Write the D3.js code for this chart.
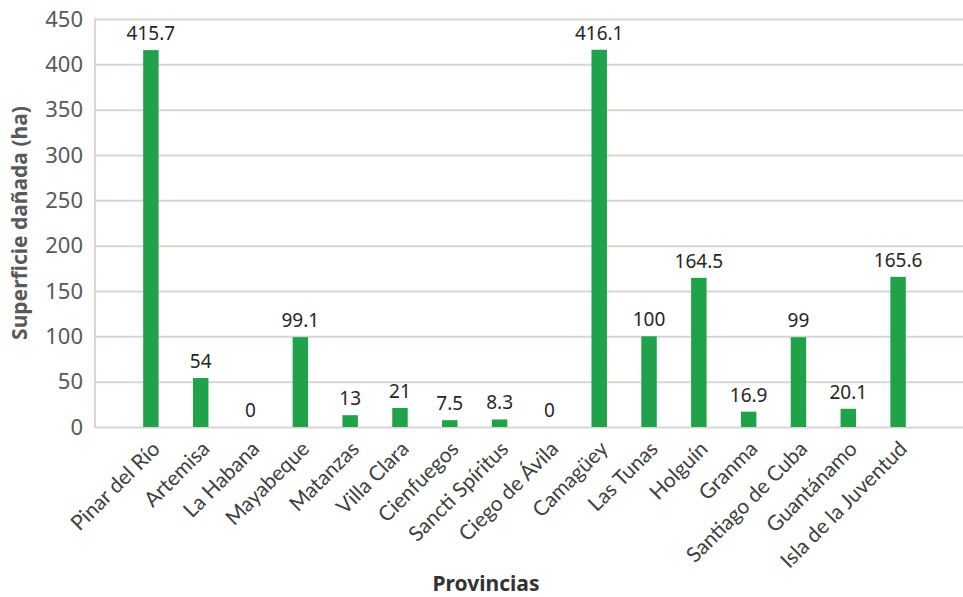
<!DOCTYPE html>
<html>
<head>
<meta charset="utf-8">
<script src="https://cdn.jsdelivr.net/npm/d3@7"></script>
<style>
  html, body { margin: 0; padding: 0; background: #fff; }
  svg { display: block; font-family: "Noto Sans", "Open Sans", sans-serif; }
</style>
</head>
<body>
<svg id="chart" width="963" height="597"></svg>
<script>
// Damaged area per province (hectares)
const provincias = ["Pinar del Río", "Artemisa", "La Habana", "Mayabeque", "Matanzas",
  "Villa Clara", "Cienfuegos", "Sancti Spíritus", "Ciego de Ávila", "Camagüey",
  "Las Tunas", "Holguín", "Granma", "Santiago de Cuba", "Guantánamo", "Isla de la Juventud"];
const superficie = [415.7, 54, 0, 99.1, 13, 21, 7.5, 8.3, 0, 416.1, 100, 164.5, 16.9, 99, 20.1, 165.6];
const yTicks = [0, 50, 100, 150, 200, 250, 300, 350, 400, 450];

const svg = d3.select("#chart");
const plotLeft = 95, plotRight = 963, plotTop = 19, plotBottom = 427;

const x = d3.scaleBand().domain(provincias).range([126, 923]).paddingInner(0.69).paddingOuter(0.345);
const y = d3.scaleLinear().domain([0, 450]).range([plotBottom, plotTop]);

// Horizontal gridlines and tick labels
const yAxis = d3.axisLeft(y).tickValues(yTicks).tickSize(-(plotRight - plotLeft)).tickPadding(12);
const gy = svg.append("g").attr("transform", `translate(${plotLeft},0)`).call(yAxis);
gy.select(".domain").remove();
gy.selectAll(".tick line").attr("stroke", "#d9d5d3").attr("stroke-width", 2);
gy.selectAll(".tick text").attr("fill", "#595959").style("font-size", "22px")
  .attr("font-family", "'Noto Sans', sans-serif");

// Left border of the plot area
svg.append("line").attr("x1", plotLeft).attr("x2", plotLeft)
  .attr("y1", plotTop - 1).attr("y2", plotBottom + 1)
  .attr("stroke", "#d9d5d3").attr("stroke-width", 2);

// Bars
svg.append("g").selectAll("rect").data(superficie).join("rect")
  .attr("x", (d, i) => x(provincias[i]))
  .attr("width", x.bandwidth())
  .attr("y", d => y(d))
  .attr("height", d => y(0) - y(d))
  .attr("fill", "#1fa24a");

// Value labels above bars
svg.append("g").selectAll("text").data(superficie).join("text")
  .attr("x", (d, i) => x(provincias[i]) + x.bandwidth() / 2)
  .attr("y", d => y(d) - 10)
  .attr("text-anchor", "middle")
  .attr("fill", "#262626")
  .style("font-size", "19px")
  .text(d => d);

// Category labels rotated -45°
svg.append("g").selectAll("text").data(provincias).join("text")
  .attr("transform", d => `translate(${x(d) + x.bandwidth() / 2 + 5},${plotBottom + 18}) rotate(-45)`)
  .attr("text-anchor", "end")
  .attr("dy", "0.35em")
  .attr("fill", "#404040")
  .style("font-family", "Lato, 'Noto Sans', sans-serif")
  .style("font-size", "21px")
  .text(d => d);

// Axis titles
svg.append("text")
  .attr("transform", `translate(27,${(plotTop + plotBottom) / 2}) rotate(-90)`)
  .attr("text-anchor", "middle")
  .attr("fill", "#595959")
  .style("font-size", "21px").style("font-weight", "bold")
  .text("Superficie dañada (ha)");

svg.append("text")
  .attr("x", 486).attr("y", 591)
  .attr("text-anchor", "middle")
  .attr("fill", "#333")
  .style("font-size", "21px").style("font-weight", "bold")
  .text("Provincias");
</script>
</body>
</html>
